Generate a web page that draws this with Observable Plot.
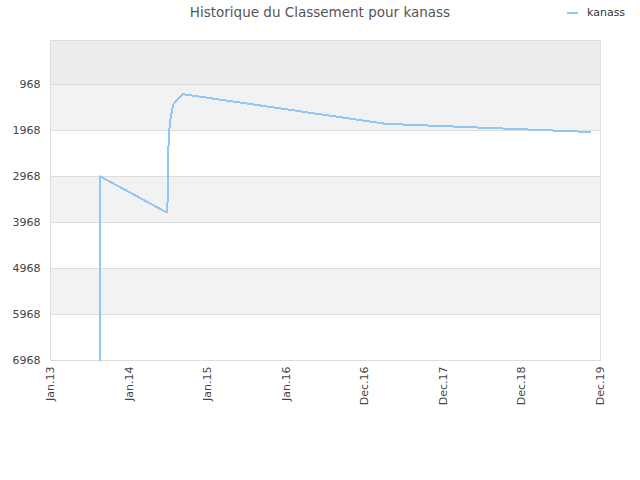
<!DOCTYPE html>
<html>
<head>
<meta charset="utf-8">
<script src="https://cdn.jsdelivr.net/npm/d3@7"></script>
<script src="https://cdn.jsdelivr.net/npm/@observablehq/plot@0.6"></script>
<style>
  html, body { margin: 0; padding: 0; background: #fff; }
  #wrap { position: relative; width: 640px; height: 480px; font-family: "DejaVu Sans", sans-serif; }
  #title { position: absolute; top: 4px; left: 0; width: 640px; text-align: center; font-size: 13.5px; color: #555; }
  #legend { position: absolute; top: 6px; left: 567px; font-size: 11px; color: #333; display: flex; align-items: center; }
  #legend .sw { width: 11px; height: 2px; background: #94c6f5; margin-right: 9px; }
  #chart { position: absolute; top: 0; left: 0; }
</style>
</head>
<body>
<div id="wrap">
  <div id="chart"></div>
  <div id="title">Historique du Classement pour kanass</div>
  <div id="legend"><span class="sw"></span><span>kanass</span></div>
</div>
<script>
const seriesName = "kanass";
const dates = ["2013-08-20","2013-08-21","2014-06-25","2014-06-30","2014-07-03","2014-07-08","2014-07-12","2014-07-17","2014-07-25","2014-08-09","2014-09-09","2017-04-06","2019-11-15"];
const ranks = [6968, 2968, 3750, 3429, 2331, 1896, 1735, 1605, 1403, 1316, 1179, 1822, 2001];
const yTicks = [968, 1968, 2968, 3968, 4968, 5968, 6968];
const yMin = 11.5;
const xTickDates = ["2013-01-01","2014-01-01","2015-01-01","2016-01-01","2016-12-31","2017-12-31","2018-12-31","2019-12-31"];
const xTickLabels = ["Jan.13","Jan.14","Jan.15","Jan.16","Dec.16","Dec.17","Dec.18","Dec.19"];

const parse = d3.utcParse("%Y-%m-%d");
const data = dates.map((d, i) => ({date: parse(d), rank: ranks[i]}));
const xTicks = xTickDates.map(parse);
const labelOf = new Map(xTicks.map((d, i) => [+d, xTickLabels[i]]));
const edges = [yMin, ...yTicks];
const bandFills = ["#ededed", "#f2f2f2", "#ffffff", "#f2f2f2", "#ffffff", "#f2f2f2", "#ffffff"];
const bands = edges.slice(0, -1).map((e, i) => ({y1: e, y2: edges[i + 1], fill: bandFills[i]}));

const chart = Plot.plot({
  width: 640,
  height: 480,
  marginLeft: 50,
  marginRight: 40,
  marginTop: 40,
  marginBottom: 120,
  style: {fontFamily: "DejaVu Sans, sans-serif", fontSize: "10px", color: "#444", background: "transparent"},
  x: {type: "utc", domain: [xTicks[0], xTicks[xTicks.length - 1]]},
  y: {domain: [yMin, yTicks[yTicks.length - 1]], reverse: true},
  marks: [
    Plot.rectY(bands, {x1: xTicks[0], x2: xTicks[xTicks.length - 1], y1: "y1", y2: "y2", fill: d => d.fill}),
    Plot.ruleY(yTicks, {stroke: "#dddddd", strokeWidth: 1}),
    Plot.frame({stroke: "#dddddd"}),
    Plot.line(data, {x: "date", y: "rank", stroke: "#94c6f5", strokeWidth: 2, curve: "linear", shapeRendering: "crispEdges"}),
    Plot.axisY({ticks: yTicks, tickSize: 0, tickPadding: 10, tickFormat: d => String(d), label: null, fontSize: 11}),
    Plot.axisX({ticks: xTicks, tickSize: 0, tickPadding: 6, tickRotate: -90, tickFormat: d => labelOf.get(+d), label: null, fontSize: 11})
  ]
});
document.getElementById("chart").appendChild(chart);
</script>
</body>
</html>
